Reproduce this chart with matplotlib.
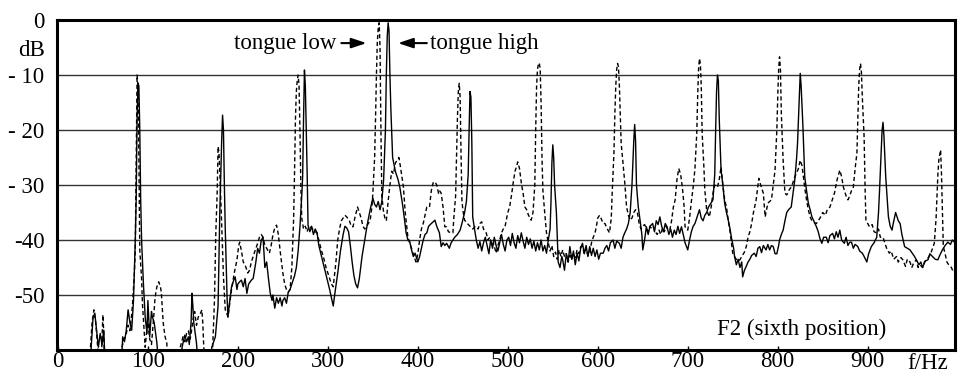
import matplotlib
matplotlib.use('Agg')
import matplotlib.pyplot as plt
import matplotlib.transforms as mtransforms
import numpy as np

plt.rcParams['font.family'] = ['Liberation Serif', 'DejaVu Serif']

# spectrum, tongue high (solid) -- (Hz, dB); values below -60 are off the chart
high = [
    (30, -65), (36, -65), (37, -59.5), (39, -54.2), (41, -53.3), (43, -56.4), (45, -59.5), (47, -57), (49, -59), (51, -56.4), (53, -65),
    (70, -65), (72, -57.6), (74, -58.5), (76, -56.4), (78, -52.7), (80, -55), (82, -56.4), (84, -51), (86, -40), (87, -32.7), (88, -18),
    (89, -11.5), (90, -12), (91, -20), (92, -32.7), (93, -40), (95, -47.8), (97, -54), (99, -57), (100, -51), (102, -57.6), (104, -53),
    (105, -54), (107, -55), (110, -58.7), (113, -65),
    (136, -65), (138, -59.5), (141, -57.3), (143, -58.5), (145, -57.6), (146, -59), (148, -55), (149, -49.7), (150, -52), (151, -55),
    (154, -58.7), (157, -65),
    (170, -65), (171, -59.5), (175, -57.6), (178, -52), (180, -34.5), (182, -22), (183, -17.3), (184, -20), (185, -30), (186, -38),
    (188, -50.4), (189, -54), (191, -51), (193, -48.5), (195, -47.5), (197, -46.7), (199, -49), (200, -48), (202, -47.6), (204, -47.3),
    (206, -48.5), (208, -47), (210, -49.7), (212, -48), (215, -47.3), (217, -47), (220, -44), (222, -41.5), (224, -42.4), (226, -40),
    (228, -39.5), (230, -45), (232, -44), (234, -47), (236, -49.7), (238, -51), (239, -50), (241, -52.4), (243, -50.5), (245, -51.5),
    (247, -50.5), (249, -52), (250, -51), (252, -50.5), (254, -51.5), (256, -49.5), (258, -49), (261, -47.5), (263, -46.5), (265, -45),
    (267, -42), (269, -37.6), (271, -32), (272, -28.5), (273, -18), (274, -9.1), (275, -12), (276, -20), (277, -27.8), (278, -37.3),
    (280, -38.5), (282, -37.5), (284, -39), (286, -38), (288, -38.7), (290, -41), (293, -43), (296, -45), (299, -47), (302, -49),
    (304, -50.5), (306, -52), (308, -49.5), (311, -46), (314, -42), (317, -39), (319, -37.5), (321, -37.8), (323, -38.5), (325, -41),
    (327, -44), (329, -46.5), (331, -48), (333, -48.7), (335, -47), (338, -43), (341, -40), (344, -37), (347, -34.5), (350, -32.4),
    (352, -33.5), (354, -34), (356, -33), (358, -34.5), (360, -33), (362, -29), (364, -20), (365, -10), (366, -3), (367, -0.5),
    (368, -2), (369, -10), (370, -16), (372, -25), (375, -27.5), (378, -29), (380, -30.4), (383, -33.5), (385, -36), (387, -38.7),
    (389, -40), (391, -40.3), (393, -41.8), (395, -43), (397, -42.4), (400, -44), (402, -43), (404, -41.5), (406, -40), (408, -39),
    (410, -38.7), (412, -37.5), (415, -37), (417, -36.7), (419, -36.4), (421, -37.5), (424, -38.7), (426, -41.2), (428, -40.5),
    (430, -41), (432, -40.6), (435, -41.5), (437, -40.5), (439, -40), (441, -39.5), (444, -39), (447, -38.2), (449, -37), (452, -35),
    (454, -33), (456, -28), (457, -20), (458, -13), (459, -14), (460, -22), (461, -35.8), (463, -38), (465, -40), (467, -41.5),
    (469, -40.3), (471, -42), (473, -40.5), (475, -39.5), (477, -41), (479, -42.5), (481, -40), (483, -41.5), (485, -39.5), (487, -41),
    (489, -42), (491, -40.5), (493, -39), (495, -40.8), (497, -42), (499, -40), (501, -39.5), (503, -41), (505, -38.8), (507, -40.5),
    (509, -41.5), (511, -39.2), (513, -40.5), (515, -38.7), (517, -40.2), (519, -41.5), (521, -39.5), (523, -40.8), (525, -39.8),
    (527, -41.5), (529, -40.2), (531, -42), (533, -40.5), (535, -41.8), (537, -40), (539, -42), (541, -41), (543, -42.4), (545, -40),
    (547, -38), (548, -33), (549, -26), (550, -22.7), (551, -25), (552, -30), (554, -35), (556, -44), (558, -45), (560, -43),
    (561, -43.6), (563, -45.5), (565, -42.5), (567, -44), (569, -41.2), (571, -43.5), (573, -42), (575, -44.5), (577, -42.4),
    (579, -43.8), (581, -41.5), (583, -40.6), (585, -42.5), (587, -41), (589, -43), (591, -41.2), (593, -42.8), (595, -41.5),
    (597, -43), (599, -41.8), (601, -43.5), (603, -42.4), (606, -42.4), (608, -41.5), (610, -41), (612, -42), (614, -40.5), (617, -40),
    (619, -41.5), (621, -40.2), (624, -40.6), (626, -41.5), (628, -39.5), (630, -38.7), (632, -38), (634, -37), (636, -35), (638, -30),
    (640, -22), (641, -19), (642, -22), (643, -30), (645, -34), (647, -36.4), (649, -39), (650, -41.8), (652, -40), (654, -37.6),
    (656, -39), (658, -37.5), (661, -37), (663, -38.5), (665, -36.5), (667, -37.2), (669, -35.8), (671, -37.5), (673, -38.5), (675, -37),
    (677, -37.6), (679, -39), (681, -38), (683, -39.5), (685, -38.2), (687, -39), (689, -37.5), (691, -38.8), (693, -37.6), (695, -39),
    (697, -40.5), (700, -41.8), (702, -40), (704, -38.5), (706, -37.5), (708, -37), (710, -36), (713, -34.5), (715, -36), (717, -36.5),
    (719, -35.5), (721, -35), (723, -34), (725, -33.5), (728, -32.7), (730, -28), (731, -20), (732, -13), (733, -10), (734, -11),
    (735, -18), (737, -27.3), (739, -30), (741, -33.3), (743, -35), (745, -36.4), (747, -38), (749, -40), (751, -41.5), (752, -43),
    (754, -44.5), (756, -43.5), (758, -45), (760, -44), (761, -46.7), (763, -45.5), (765, -44.8), (767, -44), (769, -43.5), (771, -42.8),
    (774, -42.4), (776, -43), (778, -41.5), (780, -41.2), (782, -42.3), (784, -41), (787, -41.8), (789, -40.8), (791, -41.8), (793, -41),
    (795, -41.2), (797, -42.5), (799, -42.5), (801, -41), (802, -40), (804, -39), (806, -38.2), (808, -36.5), (810, -35), (812, -34.5),
    (815, -34), (817, -31.5), (819, -29), (821, -25), (822, -22.4), (824, -14), (825, -9.7), (826, -12), (828, -19.4), (830, -28.5),
    (832, -31), (834, -33.3), (836, -34.5), (838, -35.8), (840, -36.5), (843, -37.6), (845, -38.5), (847, -39.8), (849, -40.6),
    (851, -39.5), (854, -39.5), (856, -40.5), (858, -39.2), (861, -38.8), (863, -39.8), (865, -38.5), (867, -39.5), (869, -38.2),
    (871, -40), (874, -40.6), (876, -39.5), (878, -41), (880, -40.4), (882, -40.4), (884, -41.5), (886, -40.8), (889, -41.2), (891, -42),
    (894, -42.4), (896, -43), (899, -44), (901, -42.5), (904, -41.2), (907, -40.5), (910, -39.5), (912, -35), (913, -31.5), (915, -24),
    (916, -20), (917, -18.6), (918, -21), (920, -28.5), (923, -35.8), (925, -37.5), (927, -38.2), (929, -36.5), (931, -35), (934, -36.5),
    (936, -37), (938, -39), (941, -41.2), (944, -41.5), (947, -41.8), (950, -42.5), (952, -43), (954, -43.6), (957, -44.5), (959, -44),
    (961, -45), (964, -43.8), (967, -43.6), (969, -42.5), (972, -43), (975, -43.5), (978, -43.6), (980, -42.8), (983, -41.8), (986, -41),
    (989, -40.4), (992, -40.8), (994, -40), (997, -40.5),
]

# spectrum, tongue low (dashed)
low = [
    (30, -65), (35, -65), (36, -60), (38, -55), (40, -52.7), (42, -55), (44, -59), (46, -65), (48, -65), (49, -58), (50, -53.6),
    (51, -57), (52, -65),
    (68, -65), (71, -59.5), (74, -58), (76, -57), (78, -55.5), (80, -56.5), (82, -53.5), (83, -51.5), (85, -46), (86, -41.8), (87, -25),
    (88, -10), (89, -12), (90, -25), (91, -41.8), (93, -47), (94, -51.7), (96, -57), (97, -59.5), (99, -56), (100, -55), (102, -58),
    (104, -59), (106, -55), (108, -50.4), (110, -48.5), (112, -47.6), (114, -48.5), (115, -49.7), (117, -55), (119, -57.5), (121, -58.7),
    (123, -65),
    (134, -65), (136, -59.5), (139, -57.6), (141, -58.5), (143, -57), (145, -56.5), (147, -58), (149, -56), (150, -54.5), (152, -53),
    (154, -55.5), (156, -54), (158, -53.5), (160, -52.7), (161, -55), (162, -59), (164, -65),
    (170, -65), (172, -59.5), (174, -51), (175.5, -38.7), (177, -31.5), (178, -23), (179, -24), (180, -28), (182, -37), (184, -46.7),
    (186, -52.7), (188, -53.5), (189, -54), (191, -51.5), (193, -49), (196, -46), (199, -43.6), (201, -41), (202, -40.4), (204, -42),
    (206, -44), (208, -44.5), (211, -46), (213, -45.5), (215, -44), (217, -43), (219, -42), (222, -40.6), (224, -39.5), (226, -39),
    (228, -39.5), (230, -41), (232, -41.5), (235, -42.4), (237, -41), (239, -39), (241, -37.8), (243, -37.3), (245, -39), (247, -42),
    (250, -46), (252, -48), (254, -49), (256, -49.5), (258, -49), (260, -45), (262, -36), (263, -27.6), (264, -18), (265, -13),
    (266, -11), (267, -10), (268, -12), (269, -20), (270, -30), (271, -36), (273, -38), (275, -37.5), (277, -38.5), (279, -37.5),
    (282, -37.8), (284, -38.2), (286, -38.5), (288, -38.7), (290, -40), (293, -42), (295, -43), (298, -45), (300, -46), (302, -47),
    (304, -48), (306, -48.5), (309, -44), (311, -40), (313, -38), (315, -36.5), (317, -36), (319, -35.5), (321, -35.8), (324, -36.5),
    (326, -37.5), (328, -37.6), (330, -36), (333, -34), (335, -35), (337, -36), (339, -37.5), (341, -38), (343, -37.5), (345, -37),
    (347, -36.4), (349, -34), (350, -31.5), (352, -25), (353, -18), (354, -10), (355, -4), (356, -1.5), (357, -0.5), (358, -5),
    (359, -20), (360, -32), (362, -35), (364, -36.4), (365, -36.5), (367, -33), (369, -30), (371, -27.5), (373, -28), (375, -26),
    (377, -25.5), (379, -25), (381, -27), (384, -30.4), (386, -35), (389, -39.5), (391, -40.5), (393, -41.5), (395, -42.6), (398, -44),
    (400, -42.5), (402, -40), (404, -38), (406, -37), (408, -35.5), (410, -34), (413, -34), (415, -31), (417, -29.6), (419, -29.4),
    (421, -30), (423, -31.5), (424, -31), (426, -31.5), (428, -34), (430, -37.6), (432, -37.6), (434, -38.5), (437, -38.7), (439, -38.7),
    (440, -36), (442, -32), (443, -25), (444, -18), (445, -13), (446, -11.5), (447, -14), (448, -24), (449, -32.7), (450, -34.5),
    (452, -36.4), (455, -37), (458, -37.5), (461, -38), (464, -37.5), (467, -38), (469, -37), (471, -36.7), (473, -38), (476, -38.7),
    (478, -40), (480, -39.5), (482, -41), (484, -40.5), (487, -42.4), (489, -41), (491, -40), (493, -38.7), (495, -38), (497, -37.5),
    (500, -35), (502, -34), (504, -32), (506, -29.6), (508, -27.5), (510, -26.5), (511, -25.8), (513, -27), (515, -29.6), (517, -31.5),
    (519, -34), (521, -34.5), (523, -35.5), (524, -35.8), (526, -36.4), (528, -35), (530, -30), (531, -20), (532, -12), (533, -9),
    (534, -8), (535, -7.8), (536, -9), (537, -15), (538, -25), (539, -31), (541, -35), (543, -38.7), (545, -40.5), (547, -42),
    (549, -41), (551, -43), (553, -42.2), (555, -43.5), (557, -41.8), (559, -43), (561, -41.8), (563, -43), (565, -42.5), (567, -44),
    (569, -42.8), (571, -43.6), (573, -42.5), (575, -43.2), (577, -41.8), (579, -42.5), (581, -41.2), (583, -41.2), (585, -42.5),
    (587, -41.5), (589, -42.8), (591, -42.4), (593, -40.5), (595, -39.5), (597, -38.7), (599, -37), (600, -36), (602, -35.5),
    (604, -36.2), (606, -37), (608, -37), (610, -37.8), (613, -38.7), (615, -36), (616, -31.5), (618, -24), (619, -17), (620, -12),
    (621, -9), (622, -7.9), (623, -8.5), (624, -12), (625, -17), (626, -22.4), (628, -26), (630, -29.6), (632, -34), (634, -35.5),
    (636, -36.4), (638, -36), (640, -35), (642, -34.5), (644, -35), (646, -37), (648, -38), (650, -37.5), (652, -37.2), (654, -37.8),
    (656, -38.5), (658, -37.5), (660, -38), (662, -37.6), (664, -38.5), (666, -39), (668, -38.2), (670, -39), (672, -37.8), (674, -38.5),
    (676, -37.5), (678, -38.2), (680, -38.2), (682, -36.5), (684, -34), (686, -32.7), (688, -29), (690, -27), (692, -28), (694, -30.4),
    (696, -34), (697, -37.6), (699, -38), (700, -38.2), (702, -36), (704, -33), (706, -30.4), (708, -27), (710, -20.6), (711, -14),
    (712, -9), (713, -7), (714, -8), (715, -12), (716, -20.6), (718, -27), (719, -31), (721, -34.5), (722, -35), (724, -35.8),
    (726, -34), (728, -31.5), (730, -30), (733, -30.4), (735, -29), (737, -26.7), (739, -30), (741, -32.7), (743, -34), (745, -36.4),
    (747, -38.5), (750, -42.4), (752, -43), (755, -43.8), (758, -43.6), (760, -43), (763, -42.2), (765, -41.2), (767, -39.5),
    (769, -38.5), (771, -37), (773, -35), (776, -32.7), (779, -28.8), (781, -30), (784, -31.5), (786, -35.8), (789, -33.3), (791, -33),
    (793, -32.7), (795, -30), (797, -27.3), (799, -20), (800, -14), (801, -9), (802, -6.7), (803, -9), (804, -17), (806, -25.5),
    (808, -31.5), (810, -31.8), (811, -31.5), (813, -30.8), (815, -30.4), (817, -29.5), (819, -28.5), (821, -27.8), (823, -27),
    (825, -25.5), (827, -26.5), (828, -27.8), (830, -30.5), (832, -32.7), (834, -34.5), (836, -35.8), (838, -36.5), (840, -36.8),
    (843, -37), (845, -36.5), (847, -36), (850, -35), (853, -35.5), (855, -34.5), (858, -34), (860, -33), (863, -31.5), (866, -29),
    (869, -27.3), (871, -28.5), (873, -30.4), (876, -32), (878, -32.7), (880, -32), (882, -31), (884, -30.4), (886, -27), (888, -24.2),
    (889, -18), (890, -12), (891, -9), (892, -7.9), (893, -9.5), (894, -14), (896, -21.3), (897, -30), (898, -36.4), (900, -37),
    (902, -37.6), (905, -37.2), (907, -38.5), (910, -38.7), (912, -38), (914, -39.5), (917, -39.5), (919, -40.5), (921, -41.5),
    (924, -42.4), (926, -42), (929, -43.5), (932, -43), (934, -44), (937, -43.2), (939, -43.6), (942, -44.8), (944, -43.5), (947, -44),
    (949, -45), (951, -44.2), (954, -43.6), (956, -45), (958, -44.5), (961, -45), (963, -44), (966, -43.5), (969, -42.8), (971, -42),
    (974, -40.6), (976, -36), (978, -28), (979, -25.5), (981, -23.6), (982, -28), (983, -35), (984, -41.2), (986, -42.5), (988, -44),
    (990, -44.5), (993, -45), (995, -45.8), (997, -45.5),
]

x_ticks = [0, 100, 200, 300, 400, 500, 600, 700, 800, 900]
y_ticks = [0, -10, -20, -30, -40, -50]
y_labels = ['0', '- 10', '- 20', '- 30', '-40', '-50']

FS = 16.5

fig = plt.figure(figsize=(9.61, 3.74), dpi=100)
ax = fig.add_axes([57 / 961, 24 / 374, 898 / 961, 330 / 374])

hf, hd = np.array(high).T
lf, ld = np.array(low).T
ax.plot(lf, ld, color='black', lw=1.0, dashes=(3, 2))
ax.plot(hf, hd, color='black', lw=1.0)

ax.set_xlim(-1, 997)
ax.set_ylim(-60, 0)
ax.set_yticks(y_ticks)
ax.set_yticklabels(y_labels)
ax.set_xticks(x_ticks)
ax.set_xticklabels([str(t) for t in x_ticks])
ax.tick_params(axis='y', length=0, pad=9, labelsize=FS)
ax.tick_params(axis='x', direction='in', length=3, width=1, pad=1, labelsize=FS)
ax.yaxis.grid(True, color='#333333', lw=1.0)
ax.set_axisbelow(True)
for s in ax.spines.values():
    s.set_linewidth(2.2)

trans = mtransforms.blended_transform_factory(ax.transAxes, ax.transData)
ax.text(-0.013, -5.6, 'dB', ha='right', va='center', fontsize=FS, transform=trans)
trans_x = mtransforms.blended_transform_factory(ax.transData, ax.transAxes)
ax.text(967, -0.009, 'f/Hz', ha='center', va='top', fontsize=FS, transform=trans_x)

ax.text(310, -4.2, 'tongue low', ha='right', va='center', fontsize=FS)
ax.text(413, -4.2, 'tongue high', ha='left', va='center', fontsize=FS)
arrow = dict(arrowstyle='-|>,head_length=0.9,head_width=0.3', color='black', lw=1.5, shrinkA=0, shrinkB=0)
ax.annotate('', xy=(343, -4.2), xytext=(315, -4.2), arrowprops=arrow)
ax.annotate('', xy=(378, -4.2), xytext=(410, -4.2), arrowprops=arrow)

ax.text(826, -56.2, 'F2 (sixth position)', ha='center', va='center', fontsize=FS)

plt.savefig('out.png', dpi=100)
plt.close(fig)
